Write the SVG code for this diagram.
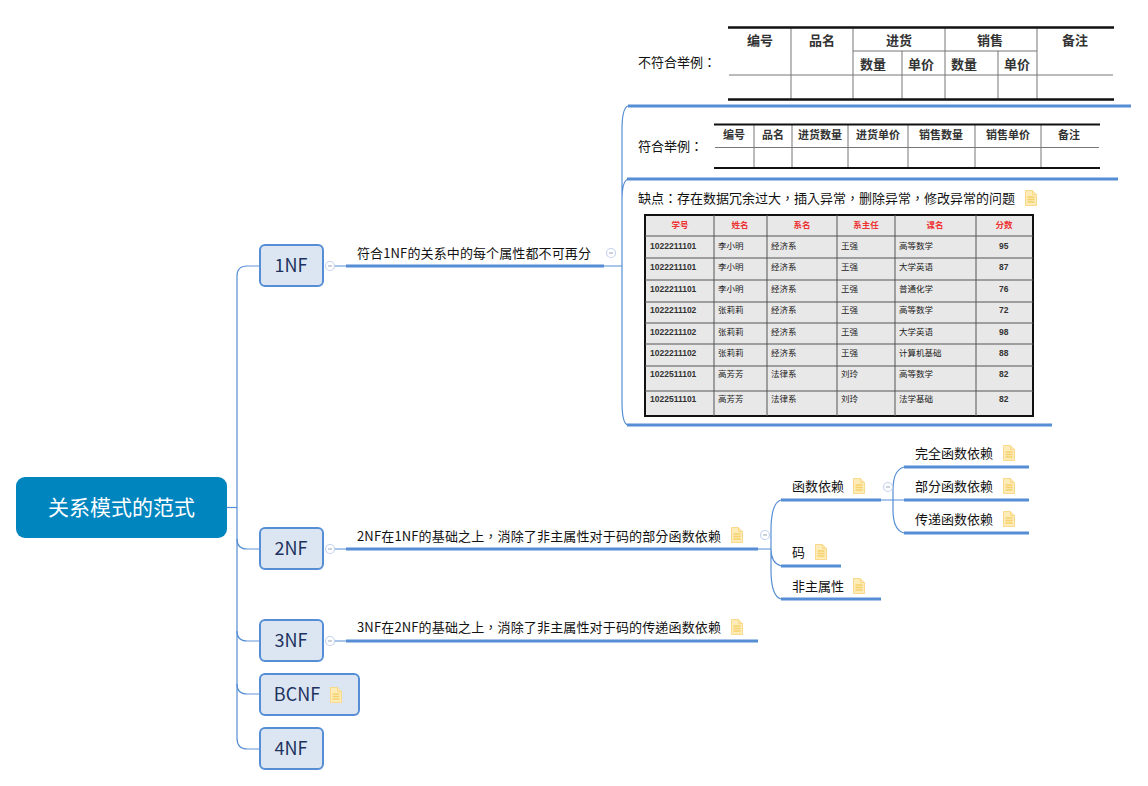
<svg xmlns="http://www.w3.org/2000/svg" width="1148" height="786" viewBox="0 0 1148 786">
<style>
text{font-family:"Noto Sans CJK SC","Liberation Sans",sans-serif}
.t{font-size:13px;fill:#111}
.p{font-family:"Noto Sans CJK TC","Liberation Sans",sans-serif}
.n{font-size:18px;fill:#1d3260;text-anchor:middle}
.box{fill:#dce6f2;stroke:#558ed5;stroke-width:2}
.thin{fill:none;stroke:#558ed5;stroke-width:1.2}
.lite{fill:none;stroke:#8db3e2;stroke-width:1.4}
.thick{fill:none;stroke:#558ed5;stroke-width:3}
.c{fill:#fff;stroke:#c6d4ee;stroke-width:1.2}
.cm{stroke:#9aa5bd;stroke-width:1}
.tb{stroke:#111;stroke-width:2.5}
.tl{stroke:#777;stroke-width:1}
.h1{font-size:13px;font-weight:700;fill:#333;text-anchor:middle}
.h2{font-size:11px;font-weight:700;fill:#333;text-anchor:middle}
.r{font-size:8.5px;font-weight:700;fill:#ee3333;text-anchor:middle}
.d{font-size:8.5px;fill:#222}
.db{font-size:8.5px;font-weight:700;fill:#333;font-family:"Liberation Sans",sans-serif}
</style>
<defs>
<g id="note">
<path d="M0.500 0.500H7.500L11.500 4.500V15.500H0.500Z" fill="#fdecb8" stroke="#fad98a" stroke-width="1"/>
<path d="M7.500 0.500V4.500H11.500" fill="#fbe7ac" stroke="#fad98a" stroke-width="1"/>
<path d="M2.500 7H9.500M2.500 9.500H9.500M2.500 12H9.500" stroke="#f6d06a" stroke-width="1.400"/>
</g>
<g id="col">
<circle r="4.500" class="c"/><path d="M-2 0H2" class="cm"/>
</g>
</defs>

<g id="connectors">
<path class="thin" d="M227 507.500H237"/>
<path class="thin" d="M237 738V276Q237 266 247 266"/>
<path class="lite" d="M247 266H260"/>
<path class="thin" d="M237 539Q237 549 247 549"/><path class="lite" d="M247 549H260"/>
<path class="thin" d="M237 631Q237 641 247 641"/><path class="lite" d="M247 641H260"/>
<path class="thin" d="M237 684Q237 694 247 694"/><path class="lite" d="M247 694H260"/>
<path class="thin" d="M237 738Q237 749 247 749"/><path class="lite" d="M247 749H260"/>
<path class="thin" d="M334 266H346M604 266H622M334 549H346M758 549H771M334 641H346"/>
<path class="thick" d="M346 266H604M346 549H758M346 641H758"/>
<path class="thin" d="M628 106Q622 108 622 130V266M628 179Q622 181 622 200V402Q622 424 628 425"/>
<path class="thick" d="M628 106H1131M627 179H1118M627 425H1052"/>
<path class="thin" d="M781 500Q771 503 771 530V570Q771 596 781 599M771 549Q771 563 781 566"/>
<path class="thick" d="M781 500H881M781 566H841M781 599H881"/>
<path class="thin" d="M881 500H904M904 467Q893 470 893 490V510Q893 530 904 533"/>
<path class="thick" d="M904 467H1029M904 500H1029M904 533H1029"/>
</g>

<g id="root">
<rect x="16" y="477" width="211" height="61" rx="9" fill="#0085bf"/>
<text x="121.500" y="515" font-size="21" fill="#fff" text-anchor="middle">关系模式的范式</text>
</g>
<g id="n1nf"><rect class="box" x="260" y="245" width="63" height="41" rx="5"/><text class="n" x="291" y="272">1NF</text><use href="#col" x="330" y="266"/></g>
<g id="n2nf"><rect class="box" x="260" y="528" width="63" height="41" rx="5"/><text class="n" x="291" y="555">2NF</text><use href="#col" x="330" y="549"/></g>
<g id="n3nf"><rect class="box" x="260" y="620" width="63" height="41" rx="5"/><text class="n" x="291" y="647">3NF</text><use href="#col" x="330" y="641"/></g>
<g id="nbcnf"><rect class="box" x="260" y="674" width="99" height="41" rx="5"/><text class="n" x="297" y="701">BCNF</text><use href="#note" x="330" y="687"/></g>
<g id="n4nf"><rect class="box" x="260" y="728" width="63" height="41" rx="5"/><text class="n" x="291" y="755">4NF</text></g>

<g id="t1nf"><text class="t" x="357" y="258" textLength="234">符合1NF的关系中的每个属性都不可再分</text><use href="#col" x="611" y="253"/></g>
<g id="t2nf"><text class="t p" x="357" y="541" textLength="364">2NF在1NF的基础之上，消除了非主属性对于码的部分函数依赖</text><use href="#note" x="731" y="527"/><use href="#col" x="765" y="535"/></g>
<g id="t3nf"><text class="t p" x="357" y="632" textLength="364">3NF在2NF的基础之上，消除了非主属性对于码的传递函数依赖</text><use href="#note" x="731" y="619"/></g>
<g id="tfd"><text class="t" x="792" y="491">函数依赖</text><use href="#note" x="853" y="478"/><use href="#col" x="888" y="487"/></g>
<g id="tcode"><text class="t" x="792" y="557">码</text><use href="#note" x="815" y="544"/></g>
<g id="tnp"><text class="t" x="792" y="591">非主属性</text><use href="#note" x="853" y="578"/></g>
<g id="tfull"><text class="t" x="915" y="458">完全函数依赖</text><use href="#note" x="1003" y="445"/></g>
<g id="tpart"><text class="t" x="915" y="491">部分函数依赖</text><use href="#note" x="1003" y="478"/></g>
<g id="ttrans"><text class="t" x="915" y="524">传递函数依赖</text><use href="#note" x="1003" y="511"/></g>
<g id="tbad"><text class="t p" x="638" y="67">不符合举例：</text></g>
<g id="tgood"><text class="t p" x="638" y="151">符合举例：</text></g>
<g id="tdis"><text class="t p" x="638" y="203">缺点：存在数据冗余过大，插入异常，删除异常，修改异常的问题</text><use href="#note" x="1025" y="190"/></g>

<g id="table1">
<path class="tl" d="M791 27V99M853 27V99M945 27V99M1037 27V99M902 51V99M998 51V99M729 75H1113M853 51H1037"/>
<path class="tb" d="M728 27.500H1114M728 99.500H1114"/>
<text class="h1" x="760" y="45">编号</text><text class="h1" x="822" y="45">品名</text><text class="h1" x="899" y="45">进货</text><text class="h1" x="990" y="45">销售</text><text class="h1" x="1075" y="45">备注</text>
<text class="h1" x="873" y="69">数量</text><text class="h1" x="921" y="69">单价</text><text class="h1" x="964" y="69">数量</text><text class="h1" x="1017" y="69">单价</text>
</g>
<g id="table2">
<path class="tl" d="M754 124V168M792 124V168M848 124V168M908 124V168M975 124V168M1041 124V168M715 147.500H1099"/>
<path class="tb" d="M714 124.500H1100M714 168H1100" style="stroke-width:2"/>
<text class="h2" x="734" y="139">编号</text><text class="h2" x="773" y="139">品名</text><text class="h2" x="820" y="139">进货数量</text><text class="h2" x="878" y="139">进货单价</text><text class="h2" x="941" y="139">销售数量</text><text class="h2" x="1008" y="139">销售单价</text><text class="h2" x="1069" y="139">备注</text>
</g>
<g id="table3">
<rect x="645" y="215" width="388" height="201" fill="#e8e8e8" stroke="#111" stroke-width="2"/>
<path class="tl" style="stroke:#555" d="M714 215V416M767 215V416M837 215V416M895 215V416M976 215V416M645 236H1033M645 258H1033M645 280H1033M645 302H1033M645 323H1033M645 344H1033M645 366H1033M645 391H1033"/>
<g class="rh">
<text class="r" x="680" y="228">学号</text><text class="r" x="740" y="228">姓名</text><text class="r" x="802" y="228">系名</text><text class="r" x="866" y="228">系主任</text><text class="r" x="935" y="228">课名</text><text class="r" x="1004" y="228">分数</text>
</g>
<g id="row1"><text class="db" x="650" y="249">1022211101</text><text class="d" x="718" y="249">李小明</text><text class="d" x="771" y="249">经济系</text><text class="d" x="841" y="249">王强</text><text class="d" x="899" y="249">高等数学</text><text class="db" x="999" y="249">95</text></g>
<g id="row2"><text class="db" x="650" y="270">1022211101</text><text class="d" x="718" y="270">李小明</text><text class="d" x="771" y="270">经济系</text><text class="d" x="841" y="270">王强</text><text class="d" x="899" y="270">大学英语</text><text class="db" x="999" y="270">87</text></g>
<g id="row3"><text class="db" x="650" y="292">1022211101</text><text class="d" x="718" y="292">李小明</text><text class="d" x="771" y="292">经济系</text><text class="d" x="841" y="292">王强</text><text class="d" x="899" y="292">普通化学</text><text class="db" x="999" y="292">76</text></g>
<g id="row4"><text class="db" x="650" y="313">1022211102</text><text class="d" x="718" y="313">张莉莉</text><text class="d" x="771" y="313">经济系</text><text class="d" x="841" y="313">王强</text><text class="d" x="899" y="313">高等数学</text><text class="db" x="999" y="313">72</text></g>
<g id="row5"><text class="db" x="650" y="335">1022211102</text><text class="d" x="718" y="335">张莉莉</text><text class="d" x="771" y="335">经济系</text><text class="d" x="841" y="335">王强</text><text class="d" x="899" y="335">大学英语</text><text class="db" x="999" y="335">98</text></g>
<g id="row6"><text class="db" x="650" y="356">1022211102</text><text class="d" x="718" y="356">张莉莉</text><text class="d" x="771" y="356">经济系</text><text class="d" x="841" y="356">王强</text><text class="d" x="899" y="356">计算机基础</text><text class="db" x="999" y="356">88</text></g>
<g id="row7"><text class="db" x="650" y="377">1022511101</text><text class="d" x="718" y="377">高芳芳</text><text class="d" x="771" y="377">法律系</text><text class="d" x="841" y="377">刘玲</text><text class="d" x="899" y="377">高等数学</text><text class="db" x="999" y="377">82</text></g>
<g id="row8"><text class="db" x="650" y="402">1022511101</text><text class="d" x="718" y="402">高芳芳</text><text class="d" x="771" y="402">法律系</text><text class="d" x="841" y="402">刘玲</text><text class="d" x="899" y="402">法学基础</text><text class="db" x="999" y="402">82</text></g>
</g>
</svg>
